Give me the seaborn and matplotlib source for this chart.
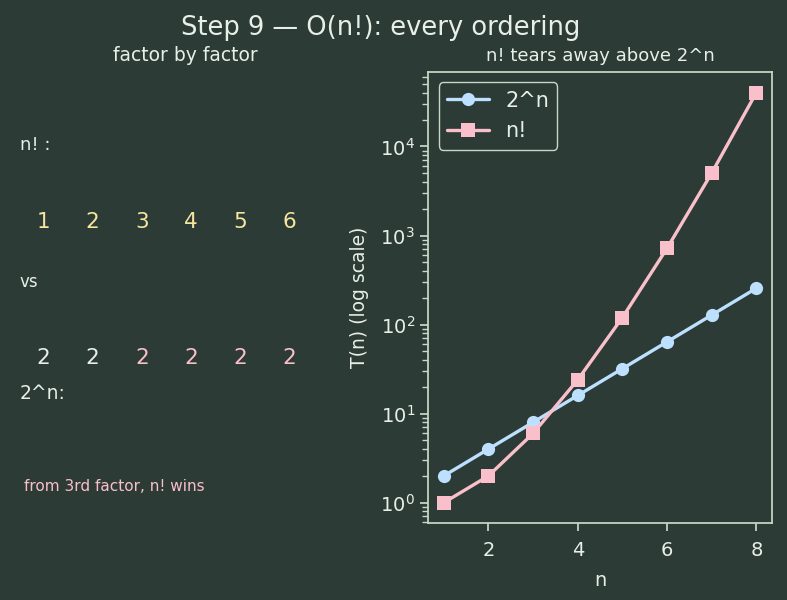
import numpy as np
import matplotlib
matplotlib.use("Agg")
import matplotlib.pyplot as plt
import seaborn as sns

# data
n_vals = [1, 2, 3, 4, 5, 6, 7, 8]
pow2_vals = [2, 4, 8, 16, 32, 64, 128, 256]
fact_vals = [1, 2, 6, 24, 120, 720, 5040, 40320]
fact_factors = ["1", "2", "3", "4", "5", "6"]
pow2_factors = ["2", "2", "2", "2", "2", "2"]

BG = "#2c3b35"
FG = "#e8efe8"
EDGE = "#c8d8c8"
BLUE = "#bde0fe"
PINK = "#f9c0cb"
YELLOW = "#f6e6a0"

sns.set_theme(style="ticks", rc={
    "figure.facecolor": BG, "axes.facecolor": BG, "axes.edgecolor": EDGE,
    "text.color": FG, "axes.labelcolor": FG, "xtick.color": EDGE,
    "ytick.color": EDGE, "axes.titlecolor": FG,
})
plt.rcParams["font.family"] = ["DejaVu Sans"]

fig = plt.figure(figsize=(7.87, 6), dpi=100)
ax_l = fig.add_axes([0.025, 0.128, 0.422, 0.752])
ax_r = fig.add_axes([0.544, 0.128, 0.437, 0.752])

fig.suptitle("Step 9 \u2014 O(n!): every ordering", fontsize=18.5, color=FG,
             x=0.484, y=0.975)

# left panel: factor by factor
ax_l.set_axis_off()
ax_l.set_xlim(0, 1)
ax_l.set_ylim(0, 1)
ax_l.set_title("factor by factor", fontsize=13.5, color=FG, pad=8)
ax_l.text(0.0, 0.838, "n! :", fontsize=13, va="center", ha="left")
ax_l.text(0.0, 0.534, "vs", fontsize=12, va="center", ha="left")
ax_l.text(0.0, 0.288, "2^n:", fontsize=13.5, va="center", ha="left")
for i, (a, b) in enumerate(zip(fact_factors, pow2_factors)):
    x = 0.072 + i * 0.148
    ax_l.text(x, 0.667, a, fontsize=15.5, color=YELLOW, ha="center", va="center")
    ax_l.text(x, 0.366, b, fontsize=15.5, color=FG if i < 2 else PINK,
              ha="center", va="center")
ax_l.text(0.012, 0.082, "from 3rd factor, n! wins", fontsize=11, color=PINK,
          ha="left", va="center")

# right panel: growth curves
sns.lineplot(x=n_vals, y=pow2_vals, ax=ax_r, color=BLUE, marker="o",
             markersize=9.5, markeredgewidth=0, linewidth=2.4, label="2^n")
sns.lineplot(x=n_vals, y=fact_vals, ax=ax_r, color=PINK, marker="s",
             markersize=9.5, markeredgewidth=0, linewidth=2.4, label="n!")
ax_r.set_yscale("log")
ax_r.set_title("n! tears away above 2^n", fontsize=13, color=FG, pad=8)
ax_r.set_xlabel("n", fontsize=14, labelpad=8)
ax_r.set_ylabel("T(n) (log scale)", fontsize=13.5, labelpad=8)
ax_r.tick_params(labelsize=14, labelcolor=FG)
ax_r.tick_params(axis="x", pad=7)
for s in ax_r.spines.values():
    s.set_visible(True)
    s.set_color(EDGE)
leg = ax_r.legend(loc="upper left", fontsize=15, facecolor=BG, edgecolor=EDGE,
                  framealpha=1)
for t in leg.get_texts():
    t.set_color(FG)

fig.savefig("out.png", dpi=100, facecolor=BG)
